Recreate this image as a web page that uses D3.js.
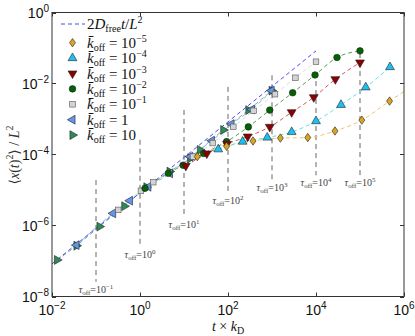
<!DOCTYPE html>
<html><head><meta charset="utf-8">
<script src="https://cdn.jsdelivr.net/npm/d3@7"></script>
<style>body{margin:0;background:#fff}svg{display:block}</style>
</head><body><svg id="c" width="415" height="336"></svg>
<script>
// ---------- DATA ----------
const kOffLabels = ["10^-5", "10^-4", "10^-3", "10^-2", "10^-1", "1", "10"];

const t_k1e5 = [20, 93, 370, 1550, 6500, 27000, 110000, 470000, 1000000];
const y_k1e5 = [8.7e-5, 1.7e-4, 2.4e-4, 2.9e-4, 3.0e-4, 4.6e-4, 9.3e-4, 3.2e-3, 5.9e-3];
const pts_k1e5 = 8; // last entry is the end of the fit curve

const t_k1e4 = [60, 215, 780, 2800, 10000, 37000, 135000, 480000];
const y_k1e4 = [1.4e-4, 2.3e-4, 3.0e-4, 4.3e-4, 8.7e-4, 2.5e-3, 7.8e-3, 2.9e-2];

const t_k1e3 = [11, 33, 95, 280, 890, 2800, 8900, 27500, 100000];
const y_k1e3 = [4.8e-5, 1.07e-4, 2.0e-4, 3.2e-4, 6.0e-4, 1.55e-3, 4.1e-3, 1.32e-2, 3.9e-2];

const t_k1e2 = [1.3, 4.4, 9.5, 28, 93, 290, 890, 2950, 9500, 30000, 100000];
const y_k1e2 = [1.12e-5, 2.95e-5, 5.0e-5, 1.07e-4, 2.3e-4, 6.0e-4, 1.78e-3, 5.5e-3, 1.74e-2, 5.4e-2, 8.3e-2];

const t_k1e1 = [0.32, 1.05, 2.0, 16, 45, 132, 380, 1170, 3400, 10000];
const y_k1e1 = [2.75e-6, 9.5e-6, 1.66e-5, 8.7e-5, 2.1e-4, 6.0e-4, 1.7e-3, 5.0e-3, 1.45e-2, 4.1e-2];

const t_k1 = [0.036, 0.245, 0.59, 1.55, 4.8, 13.8, 43, 120, 350, 980];
const y_k1 = [2.8e-7, 2.2e-6, 5.0e-6, 1.23e-5, 2.95e-5, 8.7e-5, 2.45e-4, 7.2e-4, 1.86e-3, 6.3e-3];

const t_k10 = [0.013, 0.036, 0.12, 0.44, 1.4, 4.7, 13.8, 23, 78, 290, 980];
const y_k10 = [1.07e-7, 2.7e-7, 9.3e-7, 3.5e-6, 1.2e-5, 3.3e-5, 7.8e-5, 1.35e-4, 4.9e-4, 1.78e-3, 6.3e-3];

const freeT = [0.01, 10000];
const freeY = [8.3e-8, 8.3e-2];

const tauValues = [0.1, 1, 10, 100, 1000, 10000, 100000];
const tauExp = ["−1", "0", "1", "2", "3", "4", "5"];
const tauTop = [1.9e-5, 2.6e-4, 1.8e-3, 8e-3, 1.7e-2, 2.1e-2, 7.2e-2];
const tauBottom = [2.6e-8, 2.5e-7, 1.7e-6, 8.3e-6, 1.9e-5, 2.6e-5, 2.6e-5];

const xTicks = [1e-2, 1, 1e2, 1e4, 1e6];
const xTickExp = ["−2", "0", "2", "4", "6"];
const yTicks = [1e-8, 1e-6, 1e-4, 1e-2, 1];
const yTickExp = ["−8", "−6", "−4", "−2", "0"];

// ---------- STYLE ----------
const styles = [
  {shape: "diamond", fill: "#daa520", line: "#f0c46a"},
  {shape: "up", fill: "#1ec0f0", line: "#5fe0f5"},
  {shape: "down", fill: "#8b0000", line: "#cc6060"},
  {shape: "circle", fill: "#006400", line: "#5a9e5a"},
  {shape: "square", fill: "#d3d3d3", line: "#dcdcdc"},
  {shape: "left", fill: "#6495ed", line: "#8fb0ee"},
  {shape: "right", fill: "#2e8b57", line: "#70b890"}
];
const series = [
  {t: t_k1e5, y: y_k1e5, n: pts_k1e5},
  {t: t_k1e4, y: y_k1e4},
  {t: t_k1e3, y: y_k1e3},
  {t: t_k1e2, y: y_k1e2},
  {t: t_k1e1, y: y_k1e1},
  {t: t_k1, y: y_k1},
  {t: t_k10, y: y_k10}
];

const svg = d3.select("#c");
const L = 52, R = 404, T = 12.5, B = 296.5;
const x = d3.scaleLog().domain([1e-2, 1e6]).range([L, R]);
const y = d3.scaleLog().domain([1e-8, 1]).range([B, T]);

const serif = "'Liberation Serif', 'DejaVu Serif', serif";
const sans = "'Liberation Sans', Arial, sans-serif";

const plot = svg.append("g");
svg.append("defs").append("clipPath").attr("id", "clip")
  .append("rect").attr("x", L).attr("y", T).attr("width", R - L).attr("height", B - T);
const clipped = plot.append("g").attr("clip-path", "url(#clip)");

// tau vertical dashed lines
tauValues.forEach((tv, i) => {
  clipped.append("line")
    .attr("x1", x(tv)).attr("x2", x(tv))
    .attr("y1", y(tauTop[i])).attr("y2", y(tauBottom[i]))
    .attr("stroke", "#666").attr("stroke-width", 1).attr("stroke-dasharray", "5,4");
  const tx = plot.append("text")
    .attr("x", x(tv)).attr("y", y(tauBottom[i]) + 11)
    .attr("text-anchor", "middle").attr("font-family", serif)
    .attr("font-size", 10).attr("fill", "#444");
  tx.append("tspan").attr("font-style", "italic").text("τ");
  tx.append("tspan").attr("font-size", 7).attr("dy", 2).text("off");
  tx.append("tspan").attr("dy", -2).text("=10");
  tx.append("tspan").attr("font-size", 7).attr("dy", -4).text(tauExp[i]);
});

// fit dashed lines
const lineGen = d3.line().x(d => x(d[0])).y(d => y(d[1])).curve(d3.curveMonotoneX);
series.forEach((s, i) => {
  const pts = s.t.map((tv, j) => [tv, s.y[j]]);
  clipped.append("path").attr("d", lineGen(pts)).attr("fill", "none")
    .attr("stroke", styles[i].line).attr("stroke-width", 1).attr("stroke-dasharray", "4,3");
});
// free diffusion line
clipped.append("path").attr("d", lineGen(freeT.map((tv, j) => [tv, freeY[j]])))
  .attr("fill", "none").attr("stroke", "#4a4af0").attr("stroke-width", 1).attr("stroke-dasharray", "4,3");

// markers
function drawMarker(g, shape, cx, cy, fill) {
  let el;
  const tri = d3.symbol(d3.symbolTriangle, 34)();
  if (shape === "diamond") {
    el = g.append("path").attr("d", "M0,-4.2L3,0L0,4.2L-3,0Z");
  } else if (shape === "circle") {
    el = g.append("circle").attr("r", 3.3);
  } else if (shape === "square") {
    el = g.append("rect").attr("x", -2.8).attr("y", -2.8).attr("width", 5.6).attr("height", 5.6);
  } else {
    const rot = {up: 0, down: 180, left: -90, right: 90}[shape];
    el = g.append("path").attr("d", tri).attr("data-rot", rot);
    el.attr("transform", `translate(${cx},${cy}) rotate(${rot})`);
  }
  if (!el.attr("transform")) {
    if (shape === "circle") el.attr("cx", cx).attr("cy", cy);
    else el.attr("transform", `translate(${cx},${cy})`);
  }
  el.attr("fill", fill).attr("stroke", shape === "square" ? "#555" : "#222").attr("stroke-width", 0.6);
}
const mk = clipped.append("g");
// draw slower series last so they sit on top like the reference
[6, 5, 4, 3, 2, 1, 0].forEach(i => {
  const s = series[i];
  const n = s.n || s.t.length;
  for (let j = 0; j < n; j++) drawMarker(mk, styles[i].shape, x(s.t[j]), y(s.y[j]), styles[i].fill);
});

// frame
plot.append("rect").attr("x", L).attr("y", T).attr("width", R - L).attr("height", B - T)
  .attr("fill", "none").attr("stroke", "#333").attr("stroke-width", 1);

// ticks
xTicks.forEach((tv, i) => {
  const px = Math.round(x(tv)) + 0.5;
  plot.append("line").attr("x1", px).attr("x2", px).attr("y1", B).attr("y2", B - 4).attr("stroke", "#333");
  plot.append("line").attr("x1", px).attr("x2", px).attr("y1", T).attr("y2", T + 4).attr("stroke", "#333");
  const tx = plot.append("text").attr("x", x(tv)).attr("y", 315).attr("text-anchor", "middle")
    .attr("font-family", sans).attr("font-size", 14).attr("fill", "#111");
  tx.append("tspan").text("10");
  tx.append("tspan").attr("font-size", 10).attr("dy", -6).text(xTickExp[i]);
});
yTicks.forEach((tv, i) => {
  const py = Math.round(y(tv)) + 0.5;
  plot.append("line").attr("x1", L).attr("x2", L + 4).attr("y1", py).attr("y2", py).attr("stroke", "#333");
  plot.append("line").attr("x1", R).attr("x2", R - 4).attr("y1", py).attr("y2", py).attr("stroke", "#333");
  const tx = plot.append("text").attr("x", 49).attr("y", y(tv) + 5).attr("text-anchor", "end")
    .attr("font-family", sans).attr("font-size", 14).attr("fill", "#111");
  tx.append("tspan").text("10");
  tx.append("tspan").attr("font-size", 10).attr("dy", -6).text(yTickExp[i]);
});

// axis labels
const xl = svg.append("text").attr("x", 228).attr("y", 331).attr("text-anchor", "middle")
  .attr("font-family", serif).attr("font-size", 14).attr("fill", "#111");
xl.append("tspan").attr("font-style", "italic").text("t");
xl.append("tspan").text(" × ");
xl.append("tspan").attr("font-style", "italic").text("k");
xl.append("tspan").attr("font-size", 10).attr("dy", 3).text("D");

const yl = svg.append("text").attr("transform", "translate(19,155) rotate(-90)").attr("text-anchor", "middle")
  .attr("font-family", serif).attr("font-size", 14).attr("fill", "#333");
yl.append("tspan").text("⟨");
yl.append("tspan").attr("font-style", "italic").text("x");
yl.append("tspan").text("(");
yl.append("tspan").attr("font-style", "italic").text("t");
yl.append("tspan").text(")");
yl.append("tspan").attr("font-size", 10).attr("dy", -6).text("2");
yl.append("tspan").attr("dy", 6).text("⟩ /");
yl.append("tspan").attr("font-style", "italic").text(" L");
yl.append("tspan").attr("font-size", 10).attr("dy", -6).text("2");

// legend
const lg = svg.append("g");
const rowY0 = 24, rowStep = 15.4, firstRow = 42.7;
lg.append("line").attr("x1", 61).attr("x2", 85).attr("y1", rowY0).attr("y2", rowY0)
  .attr("stroke", "#4a4af0").attr("stroke-dasharray", "4,3");
const ft = lg.append("text").attr("x", 87).attr("y", rowY0 + 5).attr("font-family", serif)
  .attr("font-size", 15).attr("fill", "#111");
ft.append("tspan").text("2");
ft.append("tspan").attr("font-style", "italic").text("D");
ft.append("tspan").attr("font-size", 10).attr("dy", 3).text("free");
ft.append("tspan").attr("font-style", "italic").attr("dy", -3).text("t");
ft.append("tspan").text("/");
ft.append("tspan").attr("font-style", "italic").text("L");
ft.append("tspan").attr("font-size", 10).attr("dy", -6).text("2");

kOffLabels.forEach((lab, i) => {
  const ry = firstRow + i * rowStep;
  drawMarker(lg, styles[i].shape, 72.5, ry, styles[i].fill);
  const tx = lg.append("text").attr("x", 87).attr("y", ry + 5).attr("font-family", serif)
    .attr("font-size", 15).attr("fill", "#111");
  tx.append("tspan").attr("font-style", "italic").text("k\u0304");
  tx.append("tspan").attr("font-size", 10).attr("dy", 3).text("off");
  const parts = lab.split("^");
  tx.append("tspan").attr("dy", -3).text(" = " + parts[0]);
  if (parts[1]) tx.append("tspan").attr("font-size", 10).attr("dy", -6).text(parts[1].replace("-", "−"));
});
</script></body></html>
